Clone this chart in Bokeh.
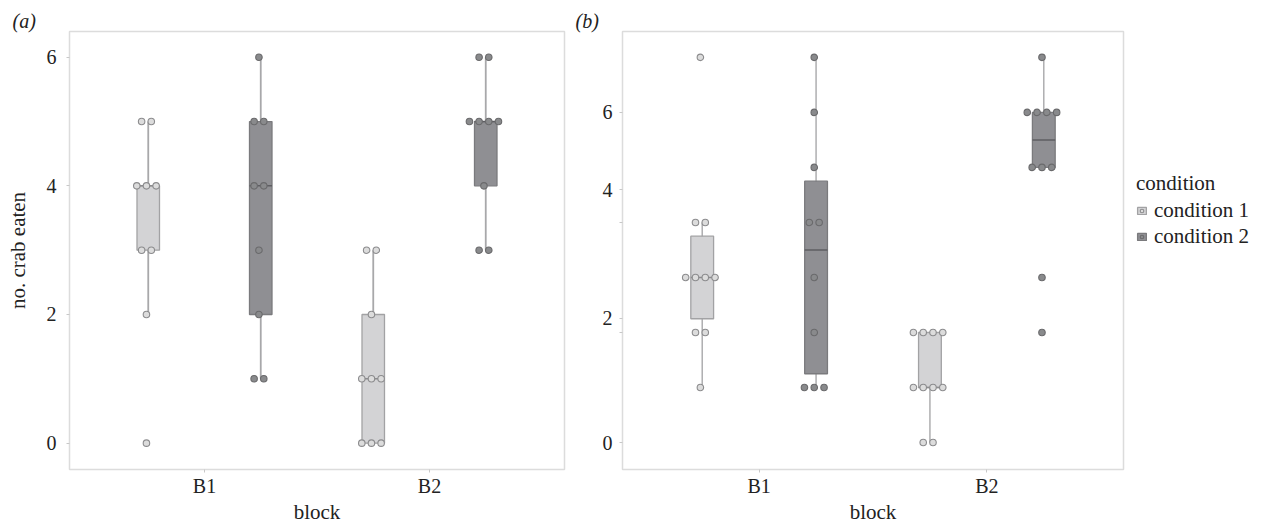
import numpy as np
from bokeh.plotting import figure
from bokeh.models import FixedTicker, Legend, LegendItem, Range1d
from bokeh.layouts import row
from bokeh.embed import file_html
from bokeh.resources import INLINE

# ---------------- data ----------------
blocks = ["B1", "B2"]
conditions = ["condition 1", "condition 2"]

# panel (a): no. crab eaten
a_b1_c1 = [5, 5, 4, 4, 4, 3, 3, 2, 0]
a_b1_c2 = [6, 5, 5, 4, 4, 3, 2, 1, 1]
a_b2_c1 = [3, 3, 2, 1, 1, 1, 0, 0, 0]
a_b2_c2 = [6, 6, 5, 5, 5, 5, 4, 3, 3]

# panel (b): values on the panel's (irregularly labelled) axis
b_b1_c1 = [7, 4, 4, 3, 3, 3, 3, 2, 2, 1]
b_b1_c2 = [7, 6, 5, 4, 4, 3, 2, 1, 1, 1]
b_b2_c1 = [2, 2, 2, 2, 1, 1, 1, 1, 0, 0]
b_b2_c2 = [7, 6, 6, 6, 6, 5, 5, 5, 3, 2]

a_ticks = [0, 2, 4, 6]
a_tick_labels = ["0", "2", "4", "6"]
b_ticks = [0, 2.26, 4.59, 6]
b_tick_labels = ["0", "2", "4", "6"]
b_minor_ticks = [2, 4]

FONT = "Liberation Serif"
TXT = "#222222"
BOX_FILL = ["#d3d3d5", "#8f8f93"]
BOX_LINE = ["#a2a2a4", "#7a7a7d"]
MED_LINE = ["#8c8c8e", "#5e5e62"]
WHISK = "#a8a8aa"
PT_FILL = ["#dcdcdc", "#898a8c"]
PT_LINE = ["#8c8c8e", "#6a6a6c"]
DODGE = 0.25
BOX_W = 0.1
DOT_STEP = 0.043
DOT_SHIFT = -0.008
H = 526


def box_stats(vals):
    v = np.asarray(vals, float)
    q1, med, q3 = np.percentile(v, [25, 50, 75])
    iqr = q3 - q1
    lo = v[v >= q1 - 1.5 * iqr].min()
    hi = v[v <= q3 + 1.5 * iqr].max()
    return q1, med, q3, lo, hi


def dots(vals, xc):
    vals = sorted(vals)
    xs, ys = [], []
    for u in sorted(set(vals)):
        n = vals.count(u)
        for i in range(n):
            xs.append(xc + (i - (n - 1) / 2) * DOT_STEP + DOT_SHIFT)
            ys.append(u)
    return xs, ys


def make_panel(groups, width, yr, border_left, border_right, border_top,
               yticks, ylabels, yminor, ylabel, ystandoff, letter, letter_offset,
               whisk_w):
    p = figure(width=width, height=H, x_range=Range1d(0.4, 2.6),
               y_range=Range1d(*yr), output_backend="svg", toolbar_location=None,
               min_border_left=border_left, min_border_right=border_right,
               min_border_top=border_top, min_border_bottom=57, title=letter)
    p.title.align = "left"
    p.title.offset = letter_offset
    p.title.standoff = 0
    p.title.text_font = FONT
    p.title.text_font_size = "20px"
    p.title.text_font_style = "italic"
    p.title.text_color = TXT
    p.xgrid.visible = False
    p.ygrid.visible = False
    p.outline_line_color = "#dcdcdc"
    p.outline_line_width = 1.5
    p.background_fill_color = "white"
    p.border_fill_color = "white"

    p.xaxis.ticker = FixedTicker(ticks=[1, 2])
    p.xaxis.major_label_overrides = {1: blocks[0], 2: blocks[1]}
    p.yaxis.ticker = FixedTicker(ticks=yticks, minor_ticks=yminor)
    p.yaxis.major_label_overrides = {t: l for t, l in zip(yticks, ylabels)}
    for ax in (p.xaxis[0], p.yaxis[0]):
        ax.axis_line_color = None
        ax.major_tick_line_color = "#c8c8c8"
        ax.minor_tick_line_color = "#c8c8c8"
        ax.major_tick_in = 0
        ax.major_tick_out = 3
        ax.minor_tick_in = 0
        ax.minor_tick_out = 3
        ax.major_label_text_font = FONT
        ax.major_label_text_font_size = "20px"
        ax.major_label_text_color = TXT
        ax.axis_label_text_font = FONT
        ax.axis_label_text_font_size = "21px"
        ax.axis_label_text_font_style = "normal"
        ax.axis_label_text_color = TXT
    p.xaxis.minor_tick_out = 0
    p.xaxis.major_label_standoff = 2
    p.xaxis.axis_label = "block"
    p.xaxis.axis_label_standoff = 0
    p.yaxis.major_label_standoff = ystandoff
    if ylabel:
        p.yaxis.axis_label = ylabel
        p.yaxis.axis_label_standoff = 14

    for bi, blk in enumerate(blocks):
        for ci, cond in enumerate(conditions):
            vals = groups[(blk, cond)]
            xc = (bi + 1) + (ci - 0.5) * 2 * DODGE
            q1, med, q3, lo, hi = box_stats(vals)
            p.segment(x0=[xc], y0=[lo], x1=[xc], y1=[hi], line_color=WHISK, line_width=whisk_w)
            p.quad(left=[xc - BOX_W / 2], right=[xc + BOX_W / 2], bottom=[q1], top=[q3],
                   fill_color=BOX_FILL[ci], line_color=BOX_LINE[ci], line_width=1.3)
            p.segment(x0=[xc - BOX_W / 2], y0=[med], x1=[xc + BOX_W / 2], y1=[med],
                      line_color=MED_LINE[ci], line_width=1.5)
            xs, ys = dots(vals, xc)
            p.scatter(x=xs, y=ys, size=6.5, marker="circle", fill_color=PT_FILL[ci],
                      line_color=PT_LINE[ci], line_width=1.1)
    return p


groups_a = {("B1", "condition 1"): a_b1_c1, ("B1", "condition 2"): a_b1_c2,
            ("B2", "condition 1"): a_b2_c1, ("B2", "condition 2"): a_b2_c2}
groups_b = {("B1", "condition 1"): b_b1_c1, ("B1", "condition 2"): b_b1_c2,
            ("B2", "condition 1"): b_b2_c1, ("B2", "condition 2"): b_b2_c2}

W_A, W_B = 570, 563
pa = make_panel(groups_a, W_A, (-0.41, 6.4), 69, 6, 31,
                a_ticks, a_tick_labels, [], "no. crab eaten", 10, "(a)", -57, 1.8)
pb = make_panel(groups_b, W_B, (-0.49, 7.47), 52, 10, 28,
                b_ticks, b_tick_labels, b_minor_ticks, None, 7, "(b)", -47, 1.4)

# ---------------- legend panel ----------------
pl = figure(width=1263 - W_A - W_B, height=H, x_range=Range1d(0, 1), y_range=Range1d(0, 1),
            output_backend="svg", toolbar_location=None, min_border=0,
            x_axis_location=None, y_axis_location=None)
pl.grid.visible = False
pl.outline_line_color = None
items = []
for ci, cond in enumerate(conditions):
    # key glyphs only (placed outside the visible range)
    qr = pl.quad(left=[-10], right=[-9], bottom=[-10], top=[-9], fill_color=BOX_FILL[ci],
                 line_color=BOX_LINE[ci], line_width=1.3)
    sr = pl.scatter(x=[-10], y=[-10], size=6.5, marker="circle", fill_color=PT_FILL[ci],
                    line_color=PT_LINE[ci], line_width=1.1)
    items.append(LegendItem(label=cond, renderers=[qr, sr]))

legend = Legend(items=items, title="condition", location=(3, 220),
                title_text_font=FONT, title_text_font_size="21px",
                title_text_font_style="normal", title_text_color=TXT,
                label_text_font=FONT, label_text_font_size="21px", label_text_color=TXT,
                glyph_width=11, glyph_height=9, label_standoff=7, spacing=1,
                title_standoff=2, padding=0, margin=0, border_line_color=None,
                background_fill_alpha=0)
pl.add_layout(legend, "center")

layout = row(pa, pb, pl)
open("out.html", "w").write(file_html(layout, INLINE))
